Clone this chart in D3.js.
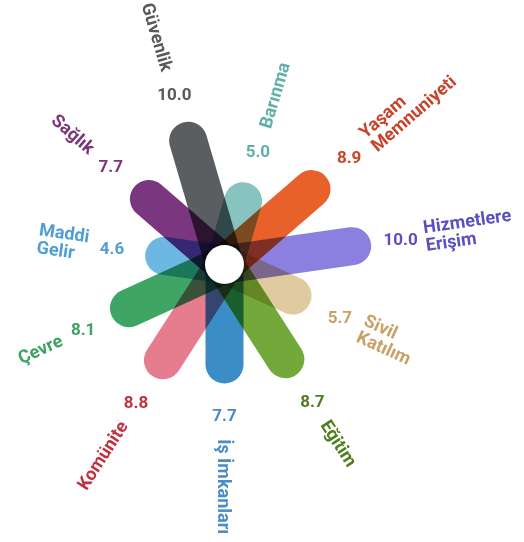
<!DOCTYPE html>
<html><head><meta charset="utf-8">
<script src="https://cdn.jsdelivr.net/npm/d3@7"></script>
<style>html,body{margin:0;padding:0;background:#fff;} svg{display:block;}</style>
</head><body>
<svg id="chart" width="524" height="542"></svg>
<script>
const categories = ["Güvenlik","Barınma","Yaşam Memnuniyeti","Hizmetlere Erişim","Sivil Katılım","Eğitim","İş İmkanları","Komünite","Çevre","Maddi Gelir","Sağlık"];
const labelLines = [["Güvenlik"],["Barınma"],["Yaşam","Memnuniyeti"],["Hizmetlere","Erişim"],["Sivil","Katılım"],["Eğitim"],["İş İmkanları"],["Komünite"],["Çevre"],["Maddi","Gelir"],["Sağlık"]];
const values = [10.0, 5.0, 8.9, 10.0, 5.7, 8.7, 7.7, 8.8, 8.1, 4.6, 7.7];
const valueLabels = ["10.0","5.0","8.9","10.0","5.7","8.7","7.7","8.8","8.1","4.6","7.7"];
const barColors = ["#5b5e61","#88c4bf","#e8602a","#8b80e0","#dfcb9f","#72a93a","#3b8dc5","#e67d8f","#3ea564","#6db8e3","#7b3680"];
const textColors = ["#58595b","#5fb0a8","#c9432b","#5a4fc2","#c9a066","#4e7d1f","#4a8cc6","#c0323f","#3ea262","#4f9fd4","#7b3578"];

const W = 524, H = 542;
const cx = 224.5, cy = 264.5;
const barWidth = 38;
const holeR = 19.5;
const font = "Roboto, 'Open Sans', sans-serif";

const data = categories.map((c, i) => ({
  cat: c, lines: labelLines[i], value: values[i], vlabel: valueLabels[i],
  color: barColors[i], tcolor: textColors[i]
}));

const angle = d3.scaleBand().domain(categories).range([0, 2 * Math.PI]);
const ang = d => angle(d.cat) - angle.bandwidth() / 2;
const rTip = d3.scaleLinear().domain([0, 10]).range([22, 148]);
const rLabel = d3.scaleLinear().domain([0, 10]).range([59, 178]);

const svg = d3.select("#chart");
const g = svg.append("g").attr("transform", `translate(${cx},${cy})`);

// bars
g.append("g").selectAll("line").data(data).join("line")
  .attr("x1", 0).attr("y1", 0)
  .attr("x2", d => (rTip(d.value) - barWidth / 2) * Math.sin(ang(d)))
  .attr("y2", d => -(rTip(d.value) - barWidth / 2) * Math.cos(ang(d)))
  .attr("stroke", d => d.color)
  .attr("stroke-width", barWidth)
  .attr("stroke-linecap", "round")
  .style("mix-blend-mode", "multiply");

g.append("circle").attr("r", holeR).attr("fill", "#fff");

// value labels
g.append("g").selectAll("text").data(data).join("text")
  .attr("x", d => rLabel(d.value) * Math.sin(ang(d)))
  .attr("y", d => -rLabel(d.value) * Math.cos(ang(d)))
  .attr("dy", "0.36em")
  .attr("text-anchor", "middle")
  .attr("fill", d => d.tcolor)
  .style("font-family", font)
  .style("font-weight", 700)
  .style("font-size", "17px")
  .text(d => d.vlabel);

// category labels
const lh = 18;
const gap = 24;
data.forEach(d => {
  const a = ang(d);
  let deg = a * 180 / Math.PI;
  deg = ((deg % 360) + 360) % 360;
  const right = deg <= 180.01;
  const rot = right ? deg - 90 : deg + 90;
  const lg = g.append("g").attr("transform", `rotate(${rot})`);
  const n = d.lines.length;
  const texts = d.lines.map((t, k) => lg.append("text")
    .attr("y", (k - (n - 1) / 2) * lh)
    .attr("dy", "0.36em")
    .attr("fill", d.tcolor)
    .style("font-family", font)
    .style("font-weight", 700)
    .style("font-size", "18px")
    .text(t));
  const r0 = rLabel(d.value) + gap;
  const bw = d3.max(texts, t => t.node().getComputedTextLength());
  texts.forEach(t => t.attr("x", right ? r0 : -(r0 + bw)));
});
</script>
</body></html>
